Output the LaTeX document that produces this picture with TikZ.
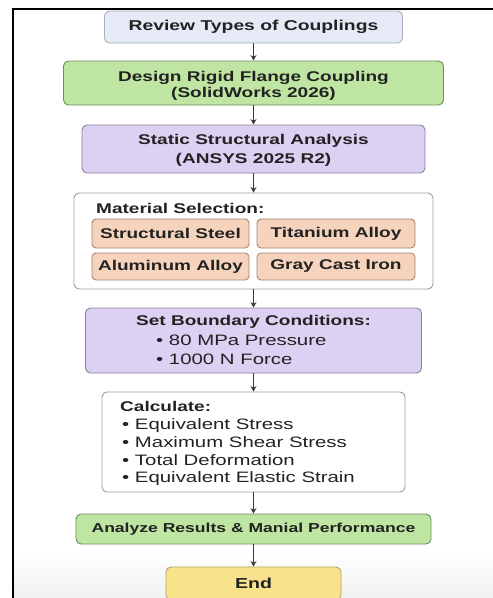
\documentclass[tikz,border=0pt]{standalone}
\usepackage{fontspec}
\setmainfont{Liberation Sans}[FakeStretch=1.35]
\usetikzlibrary{arrows.meta}
\definecolor{revfill}{HTML}{E6EAF6}
\definecolor{revdraw}{HTML}{A7AEBE}
\definecolor{grnfill}{HTML}{BEE5A2}
\definecolor{grndraw}{HTML}{6F8C5F}
\definecolor{lavfill}{HTML}{DCD1F2}
\definecolor{lavdraw}{HTML}{8B8199}
\definecolor{pchfill}{HTML}{F6D3BD}
\definecolor{pchdraw}{HTML}{A58574}
\definecolor{ylwfill}{HTML}{F8E38C}
\definecolor{ylwdraw}{HTML}{B3A364}
\definecolor{wbdraw}{HTML}{9C9C9C}
\definecolor{txt}{HTML}{222222}
\definecolor{arrcol}{HTML}{3A3A3A}
\definecolor{bggray}{HTML}{F0F0F0}
\newcommand\ttlf[1][17]{\bfseries\fontsize{14.1}{#1}\selectfont}
\newcommand\bltf[1][18]{\fontsize{15.1}{#1}\selectfont}
\begin{document}
\begin{tikzpicture}[x=1pt,y=1pt,
  box/.style={draw, rounded corners=5pt, line width=0.9pt, inner sep=0pt, align=center, text=txt},
  revbox/.style={box, fill=revfill, draw=revdraw},
  grnbox/.style={box, fill=grnfill, draw=grndraw},
  lavbox/.style={box, fill=lavfill, draw=lavdraw},
  pchbox/.style={box, fill=pchfill, draw=pchdraw, rounded corners=4pt, font=\ttlf},
  ylwbox/.style={box, fill=ylwfill, draw=ylwdraw},
  whtbox/.style={box, fill=white, draw=wbdraw},
  lbl/.style={inner sep=0pt, text=txt},
  arr/.style={draw=arrcol, line width=1.1pt, -{Stealth[length=5.5pt,width=6pt]}}
]
\useasboundingbox (0,0) rectangle (493,-598);
\fill[white] (0,0) rectangle (493,-598);
\shade[top color=white, bottom color=bggray] (14,-552) rectangle (493,-598);
\draw[line width=2pt, black] (13,-598) -- (13,-9) -- (493,-9);

\node[revbox, minimum width=298pt, minimum height=32pt, font={\bfseries\fontsize{14.3}{17}\selectfont}] (review) at (253.5,-27) {Review Types of Couplings};
\node[grnbox, minimum width=380pt, minimum height=44pt] (design) at (253.5,-83) {};
\node[lbl, align=center, font={\ttlf[16.5]}] (designtxt) at (253.5,-86) {Design Rigid Flange Coupling\\(SolidWorks 2026)};
\node[lavbox, minimum width=343pt, minimum height=48pt] (static) at (253.5,-149) {};
\node[lbl, align=center, font={\ttlf[19]}] (statictxt) at (253.5,-150.5) {Static Structural Analysis\\(ANSYS 2025 R2)};

\node[whtbox, minimum width=359pt, minimum height=96pt] (mat) at (253.5,-241) {};
\node[lbl, anchor=west, font=\ttlf] (matlabel) at (96,-208) {Material Selection:};
\node[pchbox, minimum width=157pt, minimum height=29pt] (steel) at (170.5,-233.5) {Structural Steel};
\node[pchbox, minimum width=158pt, minimum height=29pt] (ti) at (336,-233.5) {Titanium Alloy};
\node[pchbox, minimum width=157pt, minimum height=27pt] (al) at (170.5,-266.5) {Aluminum Alloy};
\node[pchbox, minimum width=158pt, minimum height=27pt] (iron) at (336,-266.5) {Gray Cast Iron};

\node[lavbox, minimum width=336pt, minimum height=65pt] (bc) at (253.5,-340.5) {};
\node[lbl, font=\ttlf] (bctitle) at (253.5,-322) {Set Boundary Conditions:};
\node[lbl, anchor=west, align=left, font={\bltf[18.5]}] (bclist) at (156,-350) {• 80 MPa Pressure\\• 1000 N Force};

\node[whtbox, minimum width=303pt, minimum height=100pt] (calc) at (253.5,-442) {};
\node[lbl, anchor=west, font=\ttlf] (calctitle) at (120,-406) {Calculate:};
\node[lbl, anchor=west, align=left, font={\bltf[17.7]}] (calclist) at (122,-452.5) {• Equivalent Stress\\• Maximum Shear Stress\\• Total Deformation\\• Equivalent Elastic Strain};

\node[grnbox, minimum width=355pt, minimum height=30pt, font={\bfseries\fontsize{13}{16}\selectfont}] (an) at (253.5,-529) {Analyze Results \& Manial Performance};
\node[ylwbox, minimum width=175pt, minimum height=33pt, font={\bfseries\fontsize{14.5}{17}\selectfont}] (end) at (253.5,-583.5) {End};

\draw[arr] (review) -- (design);
\draw[arr] (design) -- (static);
\draw[arr] (static) -- (mat);
\draw[arr] (mat) -- (bc);
\draw[arr] (bc) -- (calc);
\draw[arr] (calc) -- (an);
\draw[arr] (an) -- (end);
\end{tikzpicture}
\end{document}
